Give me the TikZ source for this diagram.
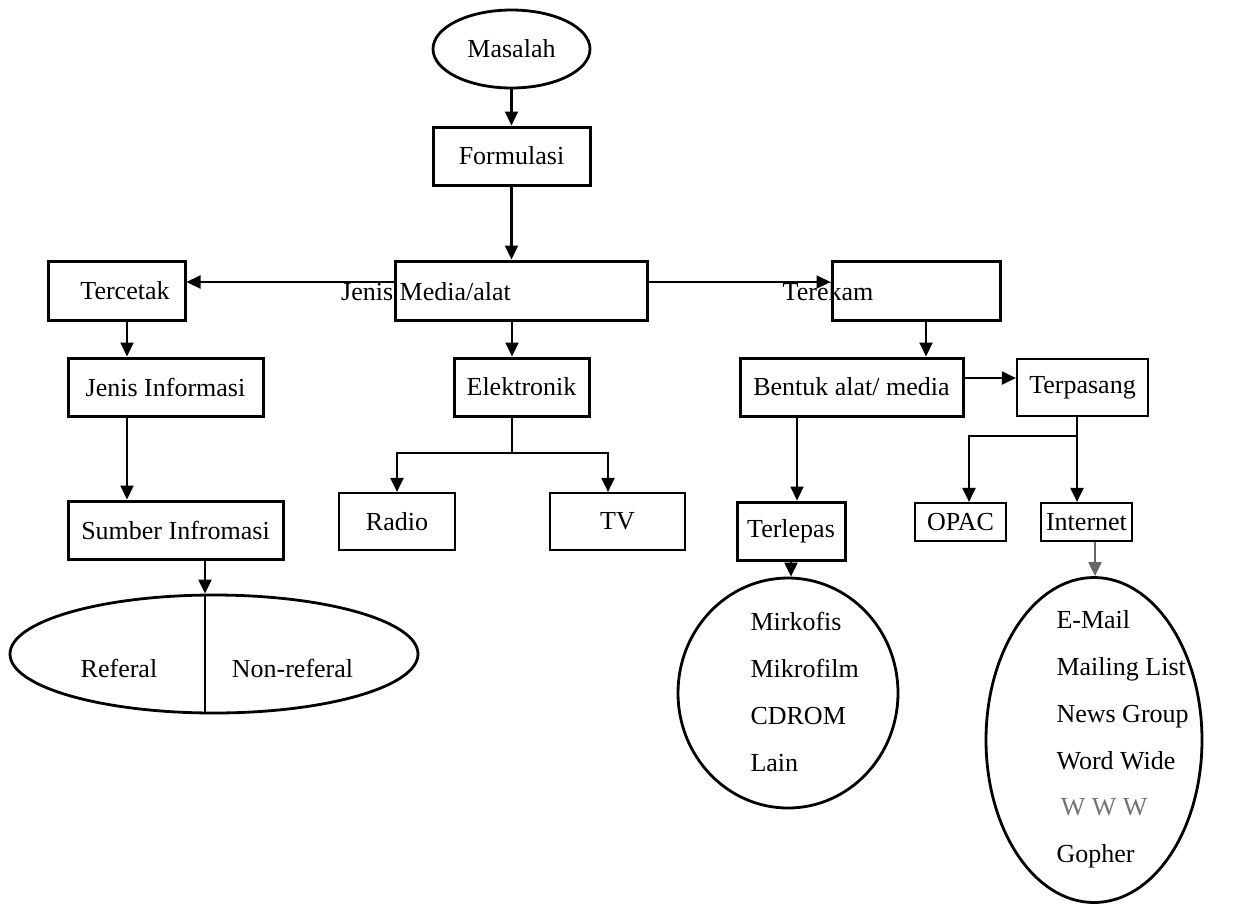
\documentclass[tikz,border=0pt]{standalone}
\usepackage{fontspec}
\setmainfont{Liberation Serif}
\usetikzlibrary{arrows.meta, shapes.geometric}

\begin{document}
\begin{tikzpicture}[
    x=1pt, y=-1pt,
    >={Triangle[length=14pt, width=13pt]},
    every node/.style={font=\fontsize{26}{31}\selectfont},
    box/.style     ={draw, rectangle, line width=3pt, minimum height=58pt, inner sep=0pt},
    thinbox/.style ={box, line width=2.2pt},
    oval/.style    ={draw, ellipse, line width=2.8pt, inner sep=0pt},
    link/.style    ={line width=2.1pt},
    lst/.style     ={align=left, anchor=west, font=\fontsize{26}{46.8}\selectfont},
]

\useasboundingbox[fill=white] (0,0) rectangle (1242,903);

\node[oval, minimum width=157pt, minimum height=78pt] (masalah)   at (511.5,49)  {Masalah};
\node[box,  minimum width=157pt]                      (formulasi) at (511.5,156) {Formulasi};

% media level
\node[box, minimum width=252pt, minimum height=59pt] (media)    at (521,290.5)   {};
\node                                                (medialbl) at (426,292)     {Jenis Media/alat};
\node[box, minimum width=137pt, minimum height=59pt] (tercetak) at (116.5,290.5) {\hspace{17pt}Tercetak};
\node[box, minimum width=168pt, minimum height=59pt] (terekam)  at (916,290.5)   {};
\node                                                (terekamlbl) at (828,292)   {Terekam};

% tercetak branch
\node[box,  minimum width=195pt]                       (jenisinfo) at (165.5,387) {Jenis Informasi};
\node[box,  minimum width=215pt]                       (sumber)    at (175.5,530) {Sumber Infromasi};
\node[oval, minimum width=408pt, minimum height=118pt] (sifat)     at (214,654)   {};
\node (referal) at (119,668)   {Referal};
\node (nonref)  at (292.5,668) {Non-referal};

% elektronik branch
\node[box,     minimum width=135pt]                     (elektronik) at (521.5,387) {Elektronik};
\node[thinbox, minimum width=116pt, minimum height=57pt] (radio)     at (397,521.5)   {Radio};
\node[thinbox, minimum width=135pt, minimum height=57pt] (tv)        at (617.5,521.5) {TV};

% terekam branch
\node[box,     minimum width=223pt]                      (bentuk)    at (851.5,387)    {Bentuk alat/ media};
\node[thinbox, minimum width=131pt, minimum height=57pt] (terpasang) at (1082.5,387.5) {Terpasang};
\node[box,     minimum width=108pt]                      (terlepas)  at (791,531)      {Terlepas};
\node[thinbox, minimum width=91pt, minimum height=38pt]  (opac)      at (960.5,522)    {OPAC};
\node[thinbox, minimum width=91pt, minimum height=38pt]  (internet)  at (1086.5,522)   {Internet};

\node[oval, minimum width=220pt, minimum height=230pt] (lepasan)    at (788,693)  {};
\node[lst]                                             (lepaslist)  at (747,692)  {Mirkofis\\Mikrofilm\\CDROM\\Lain};
\node[oval, minimum width=216pt, minimum height=325pt] (daring)     at (1094,740) {};
\node[lst] (daringlist) at (1053,739.5) {E-Mail\\Mailing List\\News Group\\Word Wide\\\textcolor{black!55}{\,W W W}\\Gopher};

\coordinate (lvl)   at (0,282);
\coordinate (efork) at (512,453);
\coordinate (bt)    at (0,378);
\coordinate (pfork) at (1077,436);

\draw[link,->] (masalah) -- (formulasi);
\draw[link,->] (formulasi.south) -- (formulasi.south |- media.north);
\draw[link,->] (media.west |- lvl) -- (tercetak.east |- lvl);
\draw[link,->] (media.east |- lvl) -- (terekam.west |- lvl);

\draw[link,->] ([xshift=10.5pt]tercetak.south)  -- ([xshift=10.5pt]tercetak.south |- jenisinfo.north);
\draw[link,->] ([xshift=-38.5pt]jenisinfo.south) -- ([xshift=-38.5pt]jenisinfo.south |- sumber.north);
\draw[link,->] ([xshift=29.5pt]sumber.south)     -- ([xshift=29.5pt]sumber.south |- sifat.north);
\draw[link]    ([xshift=-9pt]sifat.north) -- ([xshift=-9pt]sifat.south);

\draw[link,->] ([xshift=-9pt]media.south) -- ([xshift=-9pt]media.south |- elektronik.north);
\draw[link]    (elektronik.south -| efork) -- (efork);
\draw[link,->] (efork) -| (radio.north);
\draw[link,->] (efork) -| ([xshift=-9.5pt]tv.north);

\draw[link,->] ([xshift=10pt]terekam.south) -- ([xshift=10pt]terekam.south |- bentuk.north);
\draw[link,->] (bentuk.east |- bt) -- (terpasang.west |- bt);
\draw[link,->] ([xshift=-54.5pt]bentuk.south) -- ([xshift=-54.5pt]bentuk.south |- terlepas.north);
\draw[link,->] (terpasang.south -| pfork) -- (pfork |- internet.north);
\draw[link,->] (pfork) -| ([xshift=8.5pt]opac.north);
\draw[link,->] (terlepas.south) -- (terlepas.south |- lepasan.north);
\draw[link,->,black!60] ([xshift=8.5pt]internet.south) -- ([xshift=8.5pt]internet.south |- daring.north);

\end{tikzpicture}
\end{document}
